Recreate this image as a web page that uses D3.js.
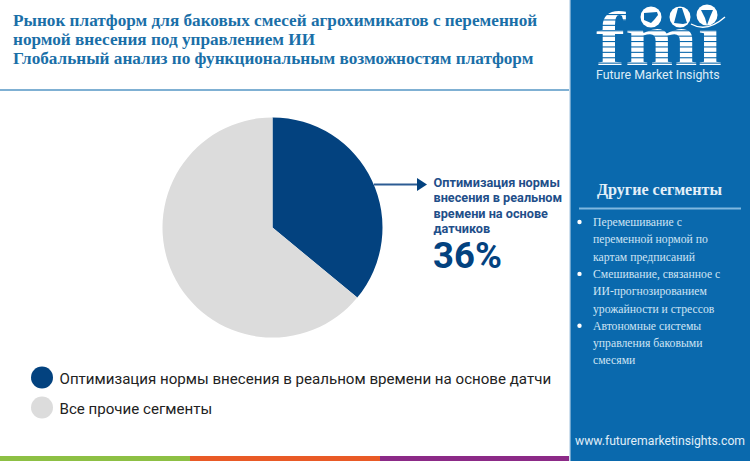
<!DOCTYPE html>
<html><head><meta charset="utf-8">
<script src="https://cdnjs.cloudflare.com/ajax/libs/d3/7.8.5/d3.min.js"></script>
<style>html,body{margin:0;padding:0;background:#fff;overflow:hidden}svg{display:block}</style>
</head><body><svg id="c" width="750" height="461"></svg>
<script>
const titleLines = ["Рынок платформ для баковых смесей агрохимикатов с переменной","нормой внесения под управлением ИИ","Глобальный анализ по функциональным возможностям платформ"];
const categories = ["Оптимизация нормы внесения в реальном времени на основе датчиков","Все прочие сегменты"];
const values = [36,64];
const colors = ["#03427f","#dcdcdc"];
const calloutLines = ["Оптимизация нормы","внесения в реальном","времени на основе","датчиков"];
const calloutValue = "36%";
const sideTitle = "Другие сегменты";
const sideItems = [["Перемешивание с","переменной нормой по","картам предписаний"],["Смешивание, связанное с","ИИ-прогнозированием","урожайности и стрессов"],["Автономные системы","управления баковыми","смесями"]];
const footerColors = ["#8dc044","#e95a26","#8c2a87"];
const site = "www.futuremarketinsights.com";

const svg = d3.select("#c");
const serif = "'Liberation Serif',serif", sans = "Roboto,sans-serif";
const defs = svg.append("defs");
defs.append("clipPath").attr("id","lg").append("rect").attr("x",0).attr("y",360).attr("width",551).attr("height",65);

// title
svg.append("g").selectAll("text").data(titleLines).join("text")
  .attr("x",13).attr("y",(d,i)=>25.5+i*19.3)
  .attr("font-family",serif).attr("font-weight",700).attr("font-size",17.2).attr("fill","#1a6fa8").text(d=>d);
svg.append("rect").attr("x",0).attr("y",89).attr("width",569).attr("height",2).attr("fill","#7fb0d3");

// pie
const pie = d3.pie().sort(null).value(d=>d)(values);
const arc = d3.arc().innerRadius(0).outerRadius(110);
svg.append("g").attr("transform","translate(272.5,227.5)").selectAll("path").data(pie).join("path")
  .attr("d",arc).attr("fill",(d,i)=>colors[i]);

// arrow
svg.append("line").attr("x1",374).attr("x2",418).attr("y1",184.5).attr("y2",184.5).attr("stroke","#2c5c93").attr("stroke-width",2);
svg.append("path").attr("d",d3.line()([[417,178],[427,184.5],[417,191]])).attr("fill","#03427f");

// callout
svg.append("g").selectAll("text").data(calloutLines).join("text")
  .attr("x",433.5).attr("y",(d,i)=>187+i*15.4)
  .attr("font-family",sans).attr("font-weight",700).attr("font-size",12.7).attr("fill","#1f4f8a").text(d=>d);
svg.append("text").attr("x",433).attr("y",268).attr("font-family",sans).attr("font-weight",700).attr("font-size",36.5).attr("fill","#03427f").text(calloutValue);

// legend
const lg = svg.append("g").selectAll("g").data(categories).join("g");
lg.append("circle").attr("cx",42).attr("cy",(d,i)=>377.5+i*30).attr("r",11).attr("fill",(d,i)=>colors[i]);
lg.append("text").attr("x",59.5).attr("y",(d,i)=>384+i*30.3).attr("clip-path","url(#lg)")
  .attr("font-family",sans).attr("font-size",15.1).attr("fill","#222").text(d=>d);

// footer
const fx = d3.scaleLinear().domain([0,3]).range([0,570]);
svg.append("g").selectAll("rect").data(footerColors).join("rect")
  .attr("x",(d,i)=>fx(i)).attr("y",456).attr("width",fx(1)).attr("height",5).attr("fill",d=>d);

// side panel
svg.append("rect").attr("x",570).attr("y",0).attr("width",180).attr("height",461).attr("fill","#0a69ad");
svg.append("rect").attr("x",569).attr("y",0).attr("width",1.5).attr("height",461).attr("fill","#cfe0ee");

// logo
const logo = svg.append("g");
defs.append("clipPath").attr("id","fmi").append("text").attr("x",596).attr("y",65)
  .attr("font-family",serif).attr("font-weight",700).attr("font-size",76).attr("textLength",126).attr("lengthAdjust","spacingAndGlyphs").text("fmi");
const stripes = logo.append("g").attr("clip-path","url(#fmi)");
stripes.append("rect").attr("x",590).attr("y",5).attr("width",140).attr("height",65).attr("fill","#fff");
d3.range(14,68,5.4).forEach(y=>stripes.append("rect").attr("x",590).attr("y",y).attr("width",140).attr("height",1.1).attr("fill","#0a69ad"));
// cover the dot of the i so the globe takes its place
logo.append("rect").attr("x",695).attr("y",5).attr("width",30).attr("height",24).attr("fill","#0a69ad");
[[651,17],[680,17],[707,15]].forEach(([x,y])=>logo.append("circle").attr("cx",x).attr("cy",y).attr("r",10.5).attr("fill","#fff"));
logo.append("path").attr("d","M644 13l13-1 1 3-4 5-3 3-7-3z").attr("fill","#0a69ad");
logo.append("path").attr("d","M678 8l4 0 5 15-4 1-9-1z").attr("fill","#0a69ad");
logo.append("path").attr("d","M701 10l12 0-3 7-3 8-2-7z").attr("fill","#0a69ad");
logo.append("path").attr("d","M691 24Q707 33 725 17").attr("fill","none").attr("stroke","#fff").attr("stroke-width",1.4);
logo.append("text").attr("x",596).attr("y",79).attr("font-family",sans).attr("font-size",12.4).attr("fill","#dcecf7").text("Future Market Insights");

// side text
svg.append("text").attr("x",659.5).attr("y",195).attr("text-anchor","middle").attr("font-family",serif).attr("font-weight",700).attr("font-size",16.1).attr("fill","#e4f0f9").text(sideTitle);
svg.append("rect").attr("x",579).attr("y",207.5).attr("width",162).attr("height",2).attr("fill","#7fb8e0");
const flat = sideItems.flatMap((ls,k)=>ls.map((t,j)=>({t,first:j===0})));
const rows = svg.append("g").selectAll("g").data(flat).join("g");
rows.append("text").attr("x",593).attr("y",(d,i)=>226+i*17.3).attr("font-family",serif).attr("font-size",11.7).attr("fill","#cfe4f4").text(d=>d.t);
rows.filter(d=>d.first).append("circle").attr("cx",579.5).attr("cy",function(d){return +d3.select(this.parentNode).select("text").attr("y")-4;}).attr("r",2.2).attr("fill","#fff");

svg.append("text").attr("x",660).attr("y",445).attr("text-anchor","middle").attr("font-family",sans).attr("font-size",12.2).attr("fill","#e0eef8").text(site);
</script></body></html>
